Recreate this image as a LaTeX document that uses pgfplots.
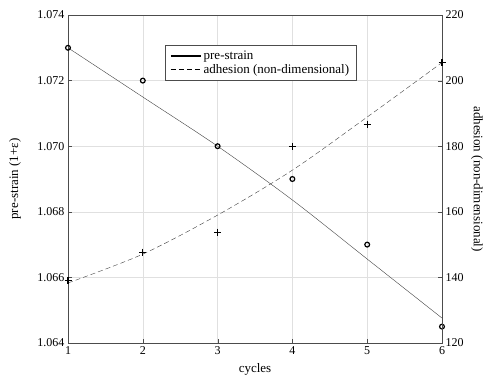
\documentclass[border=0pt]{standalone}
\usepackage{fontspec}
\setmainfont{Liberation Serif}
\usepackage{pgfplots}
\pgfplotsset{compat=1.18}
\begin{document}
\begin{tikzpicture}[x=1pt,y=1pt]
\useasboundingbox (0,0) rectangle (486,376);
\pgfplotsset{every axis/.style={scale only axis, width=374pt, height=328pt,
  xmin=1, xmax=6, font=\fontsize{12}{14}\selectfont,
  /pgf/number format/assume math mode=true,
  tick style={color=black!70}, major tick length=4pt,
  label style={font=\fontsize{13}{15}\selectfont}}}
\begin{axis}[
  at={(68pt,33pt)}, anchor=south west,
  ymin=1.064, ymax=1.074,
  ytick={1.064,1.066,...,1.0741},
  yticklabel style={/pgf/number format/.cd, fixed, fixed zerofill, precision=3},
  xtick={1,2,3,4,5,6},
  grid=major, grid style={black!12},
  axis line style={black!70},
  tick align=inside,
  xtick pos=bottom, ytick pos=left,
  xlabel={cycles}, ylabel={pre-strain (1+ε)},
  xlabel style={at={(axis description cs:0.5,0)}, anchor=center, yshift=-26pt},
  ylabel style={at={(axis description cs:0,0.5)}, anchor=center, yshift=53pt},
  legend style={at={(0.259,0.909)}, anchor=north west, draw=black!70, font=\fontsize{13}{14}\selectfont, row sep=-1pt, inner xsep=5pt, inner ysep=4pt},
  legend cell align=left,
]
\addlegendimage{legend image code/.code={\draw[black, line width=1.5pt] (0pt,0pt) -- (30pt,0pt);}}
\addlegendentry{pre-strain}
\addlegendimage{legend image code/.code={\draw[black, line width=1.6pt, dash pattern=on 5.5pt off 2.5pt] (0pt,0pt) -- (30pt,0pt);}}
\addlegendentry{adhesion (non-dimensional)}
\addplot[black!75, thin, smooth, forget plot] coordinates {(1,1.0730) (2,1.0715) (3,1.0700) (4,1.06836) (5,1.06656) (6,1.06476)};
\addplot[only marks, mark=o, mark size=2.4pt, black, line width=1.2pt, forget plot] coordinates {(1,1.073) (2,1.072) (3,1.070) (4,1.069) (5,1.067) (6,1.0645)};
\end{axis}
\begin{axis}[
  at={(68pt,33pt)}, anchor=south west,
  ymin=120, ymax=220,
  ytick={120,140,...,220},
  axis x line=none,
  axis y line*=right,
  axis line style={black!70},
  tick align=inside,
  ylabel={adhesion (non-dimensional)},
  ylabel style={at={(axis description cs:1,0.5)}, anchor=center, rotate=180, yshift=35pt},
]
\addplot[black!75, thin, smooth, dash pattern=on 5pt off 3pt] coordinates {(1,138.3) (2,147.1) (3,159.0) (4,172.7) (5,188.9) (6,205.5)};
\addplot[only marks, mark=+, mark size=3.5pt, black, line width=1.2pt] coordinates {(1,139) (2,147.7) (3,153.8) (4,180) (5,186.7) (6,205.4)};
\end{axis}
\end{tikzpicture}
\end{document}
